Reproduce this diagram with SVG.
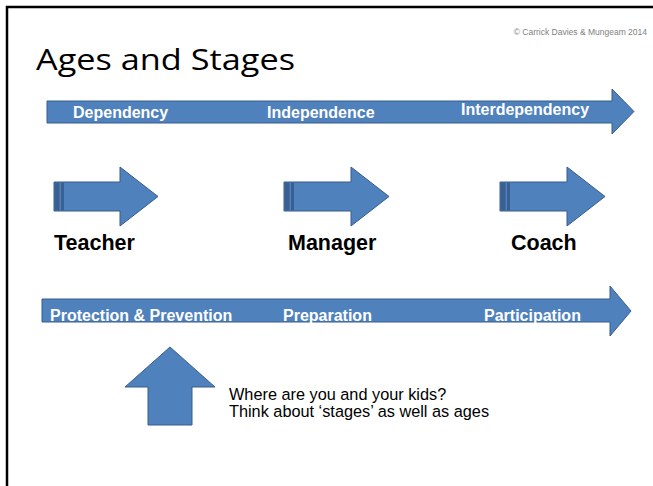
<svg xmlns="http://www.w3.org/2000/svg" width="653" height="486" viewBox="0 0 653 486">
  <style>
    .blk { fill: #4f81bd; stroke: #385d8a; stroke-width: 1; }
    .band { fill: #3a6092; }
    .lbl { font-family: "Liberation Sans", Arial, sans-serif; font-weight: bold; font-size: 16px; fill: #ffffff; }
    .role { font-family: "Liberation Sans", Arial, sans-serif; font-weight: bold; font-size: 21.5px; fill: #000000; }
    .note { font-family: "Liberation Sans", Arial, sans-serif; font-size: 16.3px; fill: #000000; }
  </style>
  <rect width="653" height="486" fill="#ffffff"/>
  <!-- slide frame -->
  <path d="M7,486 V7 H653" fill="none" stroke="#000000" stroke-width="2.5"/>

  <text x="647" y="35" text-anchor="end" font-family="Liberation Sans, Arial, sans-serif" font-size="8.5" fill="#7f7f7f">© Carrick Davies &amp; Mungeam 2014</text>
  <text x="36" y="70" font-family="Open Sans, Noto Sans, sans-serif" font-size="29" fill="#000000" textLength="259" lengthAdjust="spacingAndGlyphs">Ages and Stages</text>

  <g id="connectors">
    <!-- long timeline arrows -->
    <g id="arrow-dependency">
      <path class="blk" d="M47,101 H612 V89 L634,111.5 L612,134 V123 H47 Z"/>
      <text class="lbl" x="73" y="117.5">Dependency</text>
      <text class="lbl" x="267" y="117.5">Independence</text>
      <text class="lbl" x="461" y="114.5">Interdependency</text>
    </g>
    <g id="arrow-protection">
      <path class="blk" d="M42,299 H610 V286 L631,311 L610,336 V322 H42 Z"/>
      <text class="lbl" x="50" y="321">Protection &amp; Prevention</text>
      <text class="lbl" x="283" y="321">Preparation</text>
      <text class="lbl" x="484" y="321">Participation</text>
    </g>
  </g>

  <g id="teacher">
    <path class="blk" d="M54,182 H120 V167 L158,196.5 L120,226 V211 H54 Z"/>
    <rect class="band" x="54.5" y="182.5" width="5" height="28"/>
    <rect class="band" x="61" y="182.5" width="3" height="28"/>
    <text class="role" x="54" y="250">Teacher</text>
  </g>
  <g id="manager">
    <path class="blk" d="M284,182 H351 V167 L389,196.5 L351,226 V211 H284 Z"/>
    <rect class="band" x="284.5" y="182.5" width="5" height="28"/>
    <rect class="band" x="291" y="182.5" width="3" height="28"/>
    <text class="role" x="288" y="250">Manager</text>
  </g>
  <g id="coach">
    <path class="blk" d="M500,182 H567 V167 L605,196.5 L567,226 V211 H500 Z"/>
    <rect class="band" x="500.5" y="182.5" width="5" height="28"/>
    <rect class="band" x="507" y="182.5" width="3" height="28"/>
    <text class="role" x="511" y="250">Coach</text>
  </g>

  <g id="you-are-here">
    <path class="blk" d="M170,347 L215,387 H192 V425 H148 V387 H125 Z"/>
    <text class="note" x="229" y="400">Where are you and your kids?</text>
    <text class="note" x="229" y="417">Think about ‘stages’ as well as ages</text>
  </g>
</svg>
